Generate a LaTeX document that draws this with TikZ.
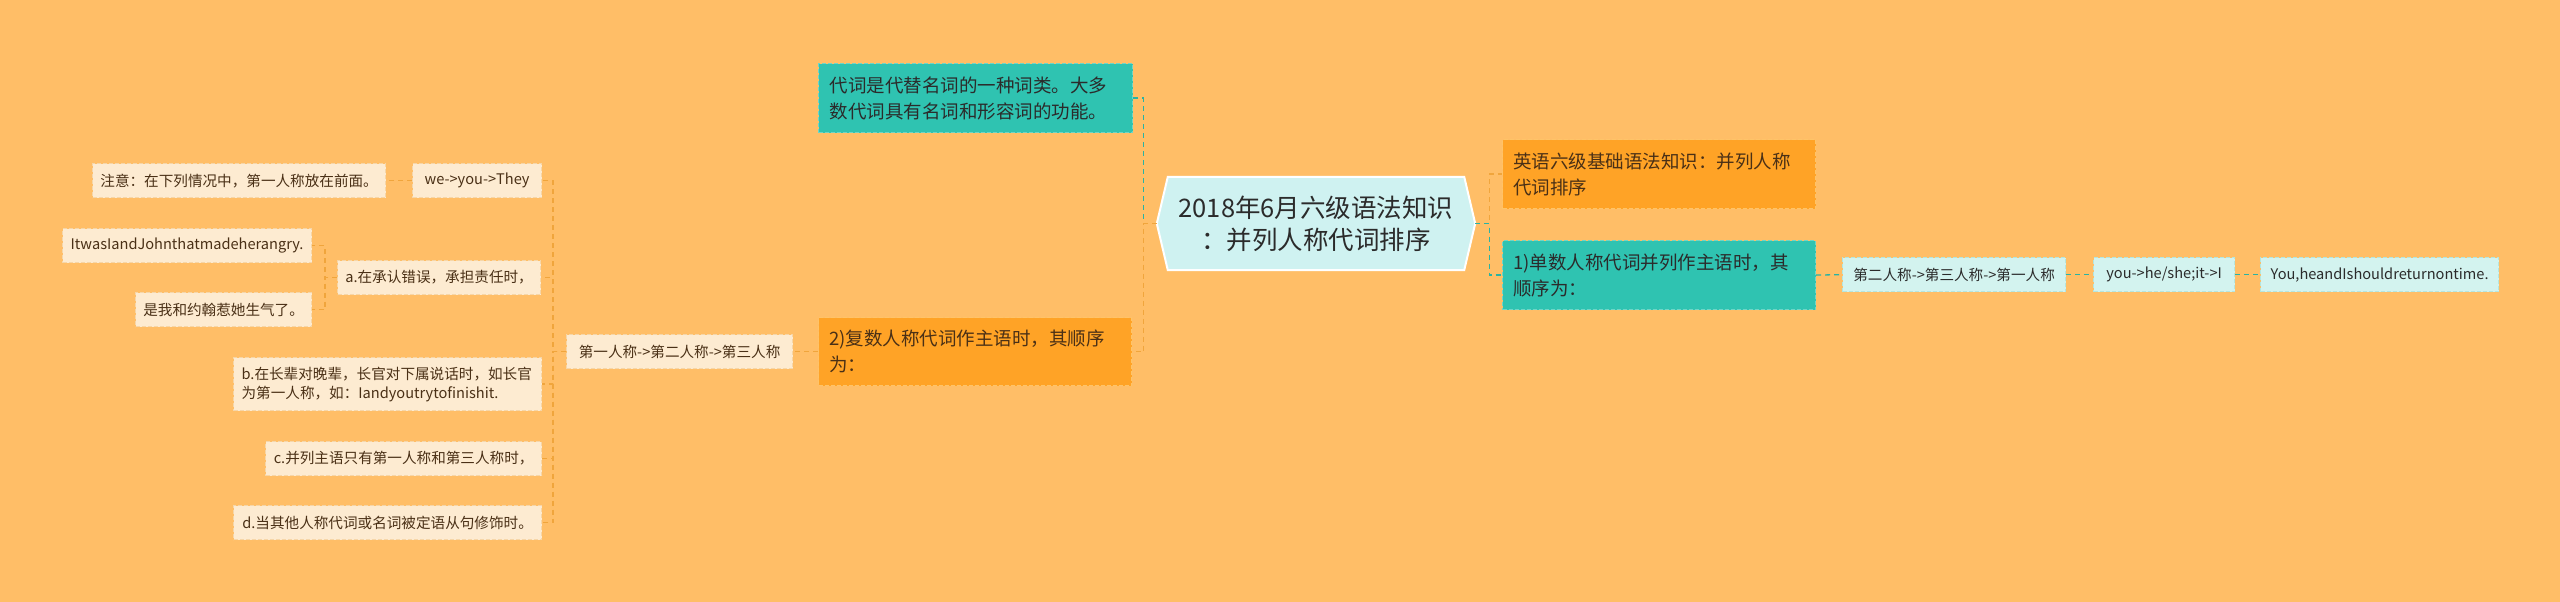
\documentclass[tikz,border=0pt]{standalone}
\usepackage{fontspec}
\setmainfont{Noto Sans CJK SC}
\usetikzlibrary{backgrounds,calc}
\definecolor{bgc}{HTML}{FFBE67}
\definecolor{tealfill}{HTML}{2FC3B1}
\definecolor{tealedge}{HTML}{6ED6C8}
\definecolor{orfill}{HTML}{FFA326}
\definecolor{oredge}{HTML}{FFC468}
\definecolor{creamfill}{HTML}{FDEBD1}
\definecolor{creamedge}{HTML}{F6D6A8}
\definecolor{cyanfill}{HTML}{D3F3EF}
\definecolor{cyanedge}{HTML}{B4E6DF}
\definecolor{rootfill}{HTML}{CFF2F1}
\definecolor{orline}{HTML}{F0A53C}
\definecolor{tealline}{HTML}{2AB3A3}
\definecolor{darktext}{HTML}{2B2B2B}
\definecolor{browntext}{HTML}{4A3016}
\begin{document}
\begin{tikzpicture}[x=1pt,y=-1pt,
  box/.style={anchor=north west, inner sep=0pt, align=left, line width=1.2pt, dash pattern=on 4pt off 2pt},
  small/.style={box, font=\fontsize{14.6pt}{19pt}\selectfont},
  big/.style={box, font=\fontsize{18.5pt}{26pt}\selectfont},
  cream/.style={small, fill=creamfill, draw=creamedge, text=browntext},
  cyanbox/.style={small, fill=cyanfill, draw=cyanedge, text=darktext},
  tealbox/.style={big, fill=tealfill, draw=tealedge, text=darktext},
  orbox/.style={big, fill=orfill, draw=oredge, text=browntext},
  rootnode/.style={inner sep=0pt, align=center, text=darktext, font=\fontsize{25.5pt}{32pt}\selectfont, minimum width=318pt, minimum height=93pt},
  orc/.style={draw=orline, line width=1.3pt, dash pattern=on 5pt off 4pt},
  tealc/.style={draw=tealline, line width=1.3pt, dash pattern=on 5pt off 4pt}
]
\begin{scope}[on background layer]
\fill[bgc] (0,0) rectangle (2560,602);
\end{scope}
\useasboundingbox (0,0) rectangle (2560,602);

% root
\node[rootnode] (root) at (1316,223.5) {2018年6月六级语法知识\\：并列人称代词排序};
\begin{scope}[on background layer]
\path[fill=rootfill, draw=white, line width=2pt, line join=miter]
  (root.west) -- ([xshift=11pt]root.north west) -- ([xshift=-11pt]root.north east)
  -- (root.east) -- ([xshift=-11pt]root.south east) -- ([xshift=11pt]root.south west) -- cycle;
\end{scope}

% first level
\node[tealbox, minimum width=314pt, minimum height=69pt, text width=292pt] (t1) at (818,63) {代词是代替名词的一种词类。大多\\数代词具有名词和形容词的功能。};
\node[orbox, minimum width=313pt, minimum height=68pt, text width=292pt] (o2) at (818,317) {2)复数人称代词作主语时，其顺序\\为：};
\node[orbox, minimum width=313pt, minimum height=69pt, text width=292pt] (r1) at (1502,139) {英语六级基础语法知识：并列人称\\代词排序};
\node[tealbox, minimum width=313pt, minimum height=69pt, text width=292pt] (r2) at (1502,240) {1)单数人称代词并列作主语时，其\\顺序为：};

% right chain
\node[cyanbox, minimum width=223pt, minimum height=34pt] (c1) at (1842,257) {第二人称->第三人称->第一人称};
\node[cyanbox, minimum width=141pt, minimum height=34pt] (c2) at (2093,257) {you->he/she;it->I};
\node[cyanbox, minimum width=238pt, minimum height=34pt] (c3) at (2260,257) {You,heandIshouldreturnontime.};

% left branch
\node[cream, minimum width=226pt, minimum height=34pt] (k) at (566,334) {第一人称->第二人称->第三人称};
\node[cream, minimum width=129pt, minimum height=34pt] (we) at (412,163) {we->you->They};
\node[cream, minimum width=293pt, minimum height=34pt] (note) at (92,163) {注意：在下列情况中，第一人称放在前面。};
\node[cream, minimum width=203pt, minimum height=34pt] (a) at (337,260) {a.在承认错误，承担责任时，};
\node[cream, minimum width=249pt, minimum height=34pt] (i1) at (62,228) {ItwasIandJohnthatmadeherangry.};
\node[cream, minimum width=176pt, minimum height=34pt] (i2) at (135,292) {是我和约翰惹她生气了。};
\node[cream, minimum width=308pt, minimum height=53pt, text width=292pt] (b) at (233,357) {b.在长辈对晚辈，长官对下属说话时，如长官\\为第一人称，如：Iandyoutrytofinishit.};
\node[cream, minimum width=276pt, minimum height=34pt] (c) at (265,441) {c.并列主语只有第一人称和第三人称时，};
\node[cream, minimum width=308pt, minimum height=34pt] (d) at (233,505) {d.当其他人称代词或名词被定语从句修饰时。};

% connectors
\draw[tealc] (root.west) -- ++(-13,0) |- (t1.east);
\draw[orc] (root.west) -- ++(-13,0) |- (o2.east);
\draw[orc] (root.east) -- ++(14,0) |- (r1.west);
\draw[tealc] (root.east) -- ++(14,0) |- (r2.west);
\draw[tealc] (r2.east) -- (c1.west);
\draw[tealc] (c1.east) -- (c2.west);
\draw[tealc] (c2.east) -- (c3.west);
\draw[orc] (o2.west) -- (k.east);
\foreach \ch in {we,a,b,c,d}{
  \draw[orc] (k.west) -- ++(-13,0) |- (\ch.east);
}
\draw[orc] (we.west) -- (note.east);
\draw[orc] (a.west) -- ++(-12,0) |- (i1.east);
\draw[orc] (a.west) -- ++(-12,0) |- (i2.east);
\end{tikzpicture}
\end{document}
